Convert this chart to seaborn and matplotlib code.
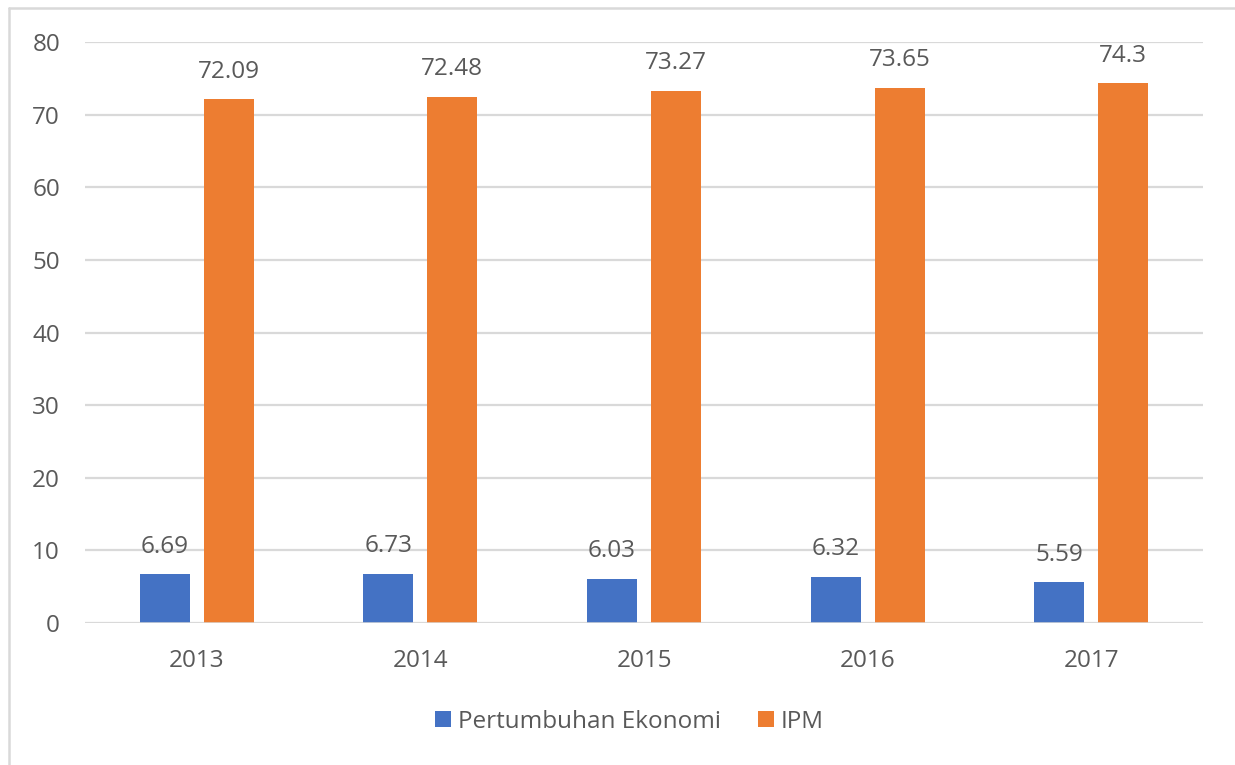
import matplotlib
matplotlib.use("Agg")
import matplotlib.pyplot as plt
from matplotlib.lines import Line2D
import seaborn as sns
import pandas as pd

years = ["2013", "2014", "2015", "2016", "2017"]
pertumbuhan = [6.69, 6.73, 6.03, 6.32, 5.59]
ipm = [72.09, 72.48, 73.27, 73.65, 74.3]
series_names = ["Pertumbuhan Ekonomi", "IPM"]
y_ticks = [0, 10, 20, 30, 40, 50, 60, 70, 80]

df = pd.DataFrame({
    "Tahun": years * 2,
    "Nilai": pertumbuhan + ipm,
    "Seri": [series_names[0]] * len(years) + [series_names[1]] * len(years),
})

sns.set_theme(style="white")
plt.rcParams["font.family"] = ["Open Sans", "DejaVu Sans"]

text_col = "#595959"
grid_col = "#d9d9d9"
palette = {series_names[0]: "#4472C4", series_names[1]: "#ED7D31"}
fs = 17.5

fig = plt.figure(figsize=(12.35, 7.65), dpi=100)
ax = fig.add_axes([85 / 1235, 142 / 765, (1203 - 85) / 1235, (723 - 142) / 765])

sns.barplot(data=df, x="Tahun", y="Nilai", hue="Seri", palette=palette,
            width=0.572, gap=0.22, saturation=1, ax=ax, legend=False,
            linewidth=0, errorbar=None)

ax.set_ylim(0, 80)
ax.set_xlim(-0.5, len(years) - 0.5)
ax.set_yticks(y_ticks)
ax.set_yticklabels([str(t) for t in y_ticks])
ax.yaxis.grid(True, color=grid_col, linewidth=1.6)
ax.set_axisbelow(True)
for s in ax.spines.values():
    s.set_visible(False)
ax.axhline(0, color=grid_col, linewidth=1.8, zorder=1)
ax.tick_params(axis="both", length=0, labelsize=fs, labelcolor=text_col)
ax.tick_params(axis="x", pad=19)
ax.tick_params(axis="y", pad=18)
ax.set_xlabel("")
ax.set_ylabel("")

for cont in ax.containers:
    for bar, val in zip(cont, cont.datavalues):
        ax.annotate(f"{val:g}", (bar.get_x() + bar.get_width() / 2, bar.get_height()),
                    xytext=(0, 20), textcoords="offset points",
                    ha="center", va="center", fontsize=fs, color=text_col)

handles = [Line2D([], [], marker="s", linestyle="", markersize=11.5,
                  markerfacecolor=palette[n], markeredgewidth=0) for n in series_names]
fig.legend(handles, series_names, loc="center", bbox_to_anchor=(629 / 1235, 1 - 722 / 765),
           ncol=2, frameon=False, fontsize=fs, labelcolor=text_col,
           handletextpad=0.25, columnspacing=1.5, handlelength=0.7)

# light frame along the top and left edges
fig.add_artist(Line2D([9 / 1235, 9 / 1235], [0, 1 - 8 / 765], color=grid_col, linewidth=1.8))
fig.add_artist(Line2D([9 / 1235, 1], [1 - 8 / 765, 1 - 8 / 765], color=grid_col, linewidth=1.8))

fig.savefig("out.png", dpi=100, facecolor="white")
